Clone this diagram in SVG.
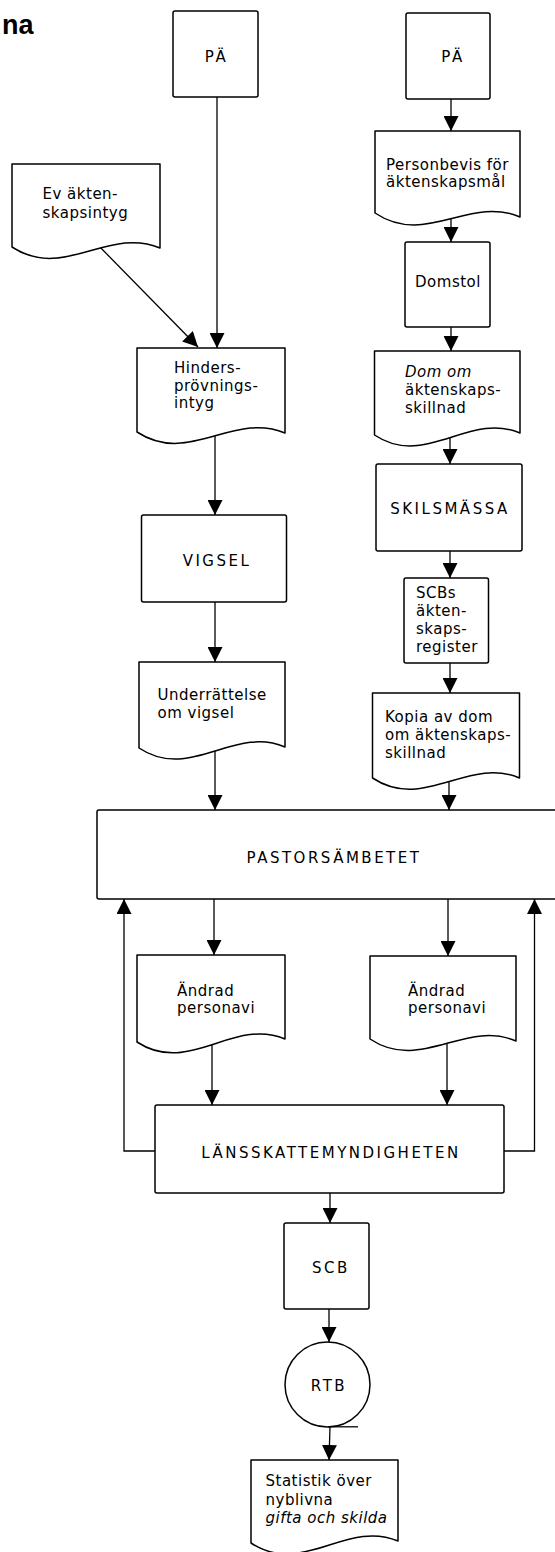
<svg xmlns="http://www.w3.org/2000/svg" width="555" height="1552" viewBox="0 0 555 1552">
<style>
.s{fill:#fff;stroke:#000;stroke-width:1.5;stroke-linejoin:round}
.c{fill:none;stroke:#000;stroke-width:1.3}
.t{font-family:"DejaVu Sans",sans-serif;font-size:15px;fill:#000;letter-spacing:0.5px}
.m{text-anchor:middle}
.cap{letter-spacing:2.5px}
.i{font-style:italic}
.title{font-family:"Liberation Sans",Arial,sans-serif;font-weight:bold;font-size:27px;fill:#000}
</style>
<defs>
<marker id="ah" markerUnits="userSpaceOnUse" markerWidth="15" markerHeight="15" refX="15" refY="7.5" orient="auto">
<path d="M0,0 L15,7.5 L0,15 Z" fill="#000"/>
</marker>
</defs>
<rect width="555" height="1552" fill="#fff"/>
<text class="title" x="2" y="34">na</text>

<g id="connectors">
<path class="c" d="M217,97 V348" marker-end="url(#ah)"/>
<path class="c" d="M96,243 L198,347" marker-end="url(#ah)"/>
<path class="c" d="M215,435 V515" marker-end="url(#ah)"/>
<path class="c" d="M215,602 V662" marker-end="url(#ah)"/>
<path class="c" d="M215,750 V810" marker-end="url(#ah)"/>
<path class="c" d="M451,99 V131" marker-end="url(#ah)"/>
<path class="c" d="M451,218 V242" marker-end="url(#ah)"/>
<path class="c" d="M451,327 V351" marker-end="url(#ah)"/>
<path class="c" d="M450,434 V464" marker-end="url(#ah)"/>
<path class="c" d="M450,551 V578" marker-end="url(#ah)"/>
<path class="c" d="M450,663 V693" marker-end="url(#ah)"/>
<path class="c" d="M449,779 V810" marker-end="url(#ah)"/>
<path class="c" d="M214,899 V955" marker-end="url(#ah)"/>
<path class="c" d="M448,899 V956" marker-end="url(#ah)"/>
<path class="c" d="M212,1041 V1105" marker-end="url(#ah)"/>
<path class="c" d="M447,1040 V1105" marker-end="url(#ah)"/>
<path class="c" d="M155,1151 H124 V899" marker-end="url(#ah)"/>
<path class="c" d="M504,1151 H534.5 V899" marker-end="url(#ah)"/>
<path class="c" d="M330,1193 V1223" marker-end="url(#ah)"/>
<path class="c" d="M329,1309 V1342" marker-end="url(#ah)"/>
<path class="c" d="M330,1427 L329,1460" marker-end="url(#ah)"/>
</g>

<g id="pa-left">
<rect class="s" x="173" y="11" width="85" height="86" rx="2"/>
<text class="t m cap" x="216.5" y="62">PÄ</text>
</g>
<g id="pa-right">
<rect class="s" x="406" y="13" width="84" height="86" rx="2"/>
<text class="t m cap" x="453" y="62">PÄ</text>
</g>
<g id="ev-aktenskapsintyg">
<path class="s" d="M12,164 H160 V248 C108.2,226 63.8,281 12,247 Z"/>
<text class="t" x="42.5" y="199">Ev äkten-</text>
<text class="t" x="42.5" y="218">skapsintyg</text>
</g>
<g id="personbevis">
<path class="s" d="M375,131 H520 V217 C469.3,195 425.8,247 375,213 Z"/>
<text class="t" x="386" y="170">Personbevis för</text>
<text class="t" x="386" y="187">äktenskapsmål</text>
</g>
<g id="domstol">
<rect class="s" x="405" y="242" width="85" height="85" rx="2"/>
<text class="t m" x="448" y="287">Domstol</text>
</g>
<g id="hindersprovningsintyg">
<path class="s" d="M137,348 H285 V433 C233.2,411 188.8,466 137,432 Z"/>
<text class="t" x="174" y="373">Hinders-</text>
<text class="t" x="174" y="390.5">prövnings-</text>
<text class="t" x="174" y="408">intyg</text>
</g>
<g id="dom-om-aktenskapsskillnad">
<path class="s" d="M374.5,351 H520 V433 C469.1,411 425.4,469 374.5,435 Z"/>
<text class="t i" x="405" y="377">Dom om</text>
<text class="t" x="405" y="395">äktenskaps-</text>
<text class="t" x="405" y="413">skillnad</text>
</g>
<g id="vigsel">
<rect class="s" x="141.5" y="515" width="145" height="87" rx="2"/>
<text class="t m cap" x="217" y="566">VIGSEL</text>
</g>
<g id="skilsmassa">
<rect class="s" x="376" y="464" width="146" height="87" rx="2"/>
<text class="t m cap" x="450" y="514">SKILSMÄSSA</text>
</g>
<g id="scbs-aktenskapsregister">
<rect class="s" x="404" y="578" width="84.5" height="85" rx="2"/>
<text class="t" x="416" y="598">SCBs</text>
<text class="t" x="416" y="616">äkten-</text>
<text class="t" x="416" y="634">skaps-</text>
<text class="t" x="416" y="652">register</text>
</g>
<g id="underrattelse-om-vigsel">
<path class="s" d="M139,662 H285 V747 C233.9,725 190.1,782 139,748 Z"/>
<text class="t" x="157.5" y="700">Underrättelse</text>
<text class="t" x="157.5" y="718">om vigsel</text>
</g>
<g id="kopia-av-dom">
<path class="s" d="M372.5,693 H519.5 V778 C468,756 424,812 372.5,778 Z"/>
<text class="t" x="385" y="722">Kopia av dom</text>
<text class="t" x="385" y="740">om äktenskaps-</text>
<text class="t" x="385" y="758">skillnad</text>
</g>
<g id="pastorsambetet">
<rect class="s" x="97" y="810" width="475" height="89" rx="2"/>
<text class="t m cap" x="334" y="863">PASTORSÄMBETET</text>
</g>
<g id="andrad-personavi-left">
<path class="s" d="M137,955 H285 V1039 C233.2,1017 188.8,1076 137,1042 Z"/>
<text class="t" x="177" y="996">Ändrad</text>
<text class="t" x="177" y="1013">personavi</text>
</g>
<g id="andrad-personavi-right">
<path class="s" d="M370,956 H516 V1041 C464.9,1019 421.1,1073 370,1039 Z"/>
<text class="t" x="408" y="996">Ändrad</text>
<text class="t" x="408" y="1013">personavi</text>
</g>
<g id="lansskattemyndigheten">
<rect class="s" x="155" y="1105" width="349" height="88" rx="2"/>
<text class="t m cap" x="331" y="1158">LÄNSSKATTEMYNDIGHETEN</text>
</g>
<g id="scb">
<rect class="s" x="284" y="1223" width="85" height="86" rx="2"/>
<text class="t m cap" x="331" y="1273">SCB</text>
</g>
<g id="rtb">
<circle class="s" cx="327.5" cy="1384.5" r="42.5"/>
<path class="c" d="M328,1426.8 H358"/>
<text class="t m cap" x="329" y="1391">RTB</text>
</g>
<g id="statistik">
<path class="s" d="M251,1460 H398 V1541 C346.5,1519 302.5,1577 251,1543 Z"/>
<text class="t" x="265.5" y="1486">Statistik över</text>
<text class="t" x="265.5" y="1505">nyblivna</text>
<text class="t i" x="265.5" y="1523">gifta och skilda</text>
</g>
</svg>
